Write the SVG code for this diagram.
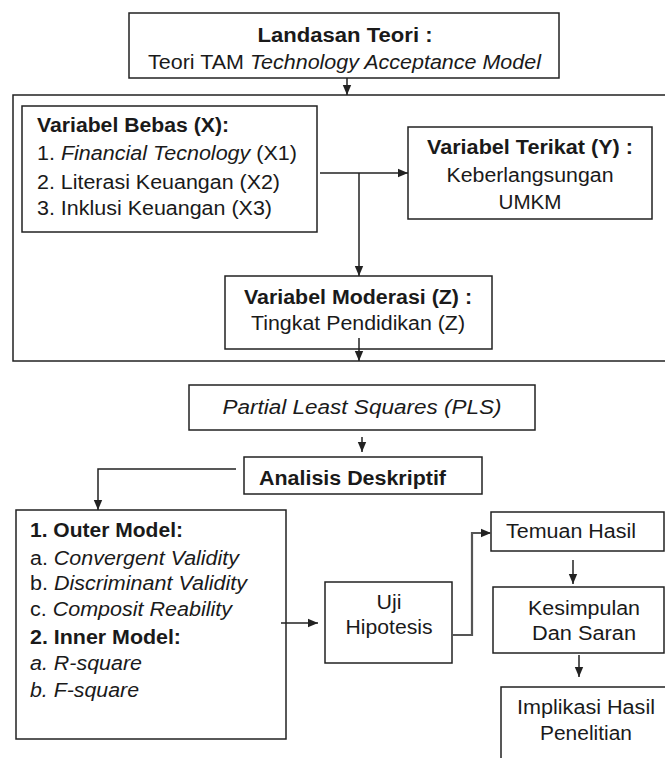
<svg xmlns="http://www.w3.org/2000/svg" width="665" height="758" viewBox="0 0 665 758">
<style>
.box{fill:#fff;stroke:#222;stroke-width:1.5}
.frame{fill:none;stroke:#222;stroke-width:1.5}
text{font-family:"Liberation Sans",Arial,sans-serif;font-size:20px;fill:#1a1a1a}
.b{font-weight:bold}
.i{font-style:italic}
.c{text-anchor:middle}
.ln{fill:none;stroke:#222;stroke-width:1.5}
.ln2{fill:none;stroke:#555;stroke-width:2.2}
</style>
<defs>
<marker id="ah" markerUnits="userSpaceOnUse" markerWidth="10" markerHeight="10" viewBox="0 0 10 10" refX="10" refY="5" orient="auto">
<path d="M0,0.8 L10,5 L0,9.2 Z" fill="#222"/>
</marker>
</defs>
<rect class="frame" x="13" y="95" width="665" height="266"/>
<g id="landasan">
<rect class="box" x="129" y="13" width="430" height="65"/>
<text class="b c" x="345" y="42" textLength="175" lengthAdjust="spacingAndGlyphs">Landasan Teori :</text>
<text x="148" y="69" textLength="393" lengthAdjust="spacingAndGlyphs">Teori TAM <tspan class="i">Technology Acceptance Model</tspan></text>
</g>
<g id="varX">
<rect class="box" x="22" y="106" width="295" height="126"/>
<text class="b" x="37" y="132" textLength="192" lengthAdjust="spacingAndGlyphs">Variabel Bebas (X):</text>
<text x="37" y="160" textLength="260" lengthAdjust="spacingAndGlyphs">1. <tspan class="i">Financial Tecnology</tspan> (X1)</text>
<text x="37" y="189" textLength="243" lengthAdjust="spacingAndGlyphs">2. Literasi Keuangan (X2)</text>
<text x="37" y="215" textLength="235" lengthAdjust="spacingAndGlyphs">3. Inklusi Keuangan (X3)</text>
</g>
<g id="varY">
<rect class="box" x="408" y="127" width="244" height="92"/>
<text class="b c" x="530" y="154" textLength="206" lengthAdjust="spacingAndGlyphs">Variabel Terikat (Y) :</text>
<text class="c" x="530" y="182" textLength="167" lengthAdjust="spacingAndGlyphs">Keberlangsungan</text>
<text class="c" x="530" y="209" textLength="63" lengthAdjust="spacingAndGlyphs">UMKM</text>
</g>
<g id="varZ">
<rect class="box" x="225" y="276" width="267" height="73"/>
<text class="b c" x="358" y="304" textLength="228" lengthAdjust="spacingAndGlyphs">Variabel Moderasi (Z) :</text>
<text class="c" x="358" y="330" textLength="214" lengthAdjust="spacingAndGlyphs">Tingkat Pendidikan (Z)</text>
</g>
<g id="pls">
<rect class="box" x="189" y="385" width="346" height="45"/>
<text class="i c" x="362" y="414" textLength="279" lengthAdjust="spacingAndGlyphs">Partial Least Squares (PLS)</text>
</g>
<g id="analisis">
<rect class="box" x="244" y="457" width="238" height="37"/>
<text class="b" x="259" y="485" textLength="187" lengthAdjust="spacingAndGlyphs">Analisis Deskriptif</text>
</g>
<g id="outer">
<rect class="box" x="16" y="510" width="270" height="229"/>
<text class="b" x="30" y="537" textLength="153" lengthAdjust="spacingAndGlyphs">1. Outer Model:</text>
<text x="30" y="565" textLength="209" lengthAdjust="spacingAndGlyphs">a. <tspan class="i">Convergent Validity</tspan></text>
<text x="30" y="590" textLength="217" lengthAdjust="spacingAndGlyphs">b. <tspan class="i">Discriminant Validity</tspan></text>
<text x="30" y="616" textLength="202" lengthAdjust="spacingAndGlyphs">c. <tspan class="i">Composit Reability</tspan></text>
<text class="b" x="30" y="644" textLength="151" lengthAdjust="spacingAndGlyphs">2. Inner Model:</text>
<text class="i" x="30" y="670" textLength="112" lengthAdjust="spacingAndGlyphs">a. R-square</text>
<text class="i" x="30" y="697" textLength="109" lengthAdjust="spacingAndGlyphs">b. F-square</text>
</g>
<g id="uji">
<rect class="box" x="325" y="582" width="127" height="81"/>
<text class="c" x="389" y="609" textLength="25" lengthAdjust="spacingAndGlyphs">Uji</text>
<text class="c" x="389" y="634" textLength="87" lengthAdjust="spacingAndGlyphs">Hipotesis</text>
</g>
<g id="temuan">
<rect class="box" x="491" y="512" width="173" height="39"/>
<text x="506" y="538" textLength="130" lengthAdjust="spacingAndGlyphs">Temuan Hasil</text>
</g>
<g id="kesimpulan">
<rect class="box" x="493" y="587" width="171" height="66"/>
<text class="c" x="584" y="615" textLength="112" lengthAdjust="spacingAndGlyphs">Kesimpulan</text>
<text class="c" x="584" y="640" textLength="104" lengthAdjust="spacingAndGlyphs">Dan Saran</text>
</g>
<g id="implikasi">
<rect class="box" x="501" y="687" width="180" height="90"/>
<text class="c" x="586" y="714" textLength="138" lengthAdjust="spacingAndGlyphs">Implikasi Hasil</text>
<text class="c" x="586" y="740" textLength="92" lengthAdjust="spacingAndGlyphs">Penelitian</text>
</g>
<g id="connectors">
<path class="ln" d="M347,78 V95" marker-end="url(#ah)"/>
<path class="ln" d="M320,173 H408" marker-end="url(#ah)"/>
<path class="ln" d="M359,173 V276" marker-end="url(#ah)"/>
<path class="ln" d="M359,338 V361" marker-end="url(#ah)"/>
<path class="ln" d="M362,437 V452" marker-end="url(#ah)"/>
<path class="ln" d="M236,469 H98 V510" marker-end="url(#ah)"/>
<path class="ln" d="M281,623 H318" marker-end="url(#ah)"/>
<path class="ln2" d="M452,635 H472 V533 H491" marker-end="url(#ah)"/>
<path class="ln" d="M573,560 V584" marker-end="url(#ah)"/>
<path class="ln" d="M579,655 V677" marker-end="url(#ah)"/>
</g>
</svg>
